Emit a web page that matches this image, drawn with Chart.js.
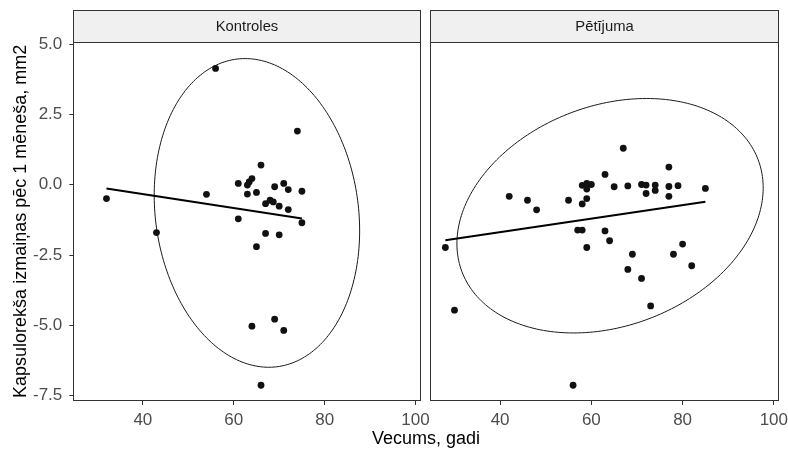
<!DOCTYPE html>
<html>
<head>
<meta charset="utf-8">
<script src="https://cdn.jsdelivr.net/npm/chart.js@4/dist/chart.umd.min.js"></script>
<style>
  html, body { margin: 0; padding: 0; background: #fff; }
  #wrap { position: relative; width: 788px; height: 452px; font-family: "Liberation Sans", Arial, sans-serif; overflow: hidden; }
  #cLeft { position: absolute; left: 0; top: 0; }
  #cRight { position: absolute; left: 425px; top: 0; }
  #xTitle { position: absolute; left: 276px; width: 300px; top: 428px; text-align: center; font-size: 18px; line-height: 21px; color: #000; white-space: nowrap; }
</style>
</head>
<body>
<div id="wrap">
  <canvas id="cLeft" width="445" height="452"></canvas>
  <canvas id="cRight" width="363" height="452"></canvas>
  <div id="xTitle">Vecums, gadi</div>
</div>
<script>
// Panel names
const panelNames = ["Kontroles", "Pētījuma"];

// Control group: age (years) and capsulorhexis change (mm2)
const kontrolesAge = [32, 56, 74, 66, 54, 61, 64, 63.4, 63, 63, 65, 69, 71, 72, 75, 67, 68, 68.7, 70, 72, 61, 75, 43, 67, 70, 65, 64, 69, 71, 66];
const kontrolesChange = [-0.49, 4.14, 1.91, 0.70, -0.34, 0.05, 0.22, 0.10, -0.01, -0.33, -0.27, -0.07, 0.05, -0.17, -0.23, -0.67, -0.55, -0.61, -0.76, -0.88, -1.21, -1.35, -1.70, -1.73, -1.78, -2.20, -5.03, -4.78, -5.18, -7.13];

// Study group
const studyAge = [67, 77, 63, 58, 59, 60, 59, 65, 68, 71, 72, 72, 74, 74, 77, 77, 79, 85, 42, 46, 48, 55, 59, 58, 57, 58, 63, 64, 59, 69, 68, 71, 73, 78, 80, 82, 28, 30, 56];
const studyChange = [1.30, 0.63, 0.37, -0.02, 0.05, 0.01, -0.15, -0.07, -0.04, 0.01, -0.01, -0.31, -0.01, -0.20, -0.06, -0.41, -0.03, -0.13, -0.41, -0.55, -0.89, -0.55, -0.49, -0.68, -1.61, -1.61, -1.64, -1.99, -2.23, -2.47, -3.01, -3.33, -4.31, -2.47, -2.11, -2.88, -2.23, -4.46, -7.13];

// Linear fit end points (age, change)
const kontrolesFitAge = [32, 75];
const kontrolesFitChange = [-0.13, -1.20];
const studyFitAge = [28, 85];
const studyFitChange = [-1.97, -0.60];

// Ellipse: centre, upper conjugate semi-axis, horizontal semi-axis (data units)
const kontrolesEllipse = [65.1, -1.0, -2.6, 5.49, 22.45];
const studyEllipse = [64.1, -1.1, 8.0, 4.17, 32.6];

// Axis ticks and ranges
const xTicks = [40, 60, 80, 100];
const yTicks = [-7.5, -5.0, -2.5, 0.0, 2.5, 5.0];
const xRange = [24.7, 101.2];
const yRange = [-7.69, 5.09];

function toPoints(xs, ys) { return xs.map((x, i) => ({ x: x, y: ys[i] })); }

function ellipsePoints(e) {
  const [cx, cy, ux, uy, h] = e;
  const pts = [];
  for (let i = 0; i <= 120; i++) {
    const t = (i / 120) * Math.PI * 2;
    pts.push({ x: cx + ux * Math.cos(t) + h * Math.sin(t), y: cy + uy * Math.cos(t) });
  }
  return pts;
}

// Frame around the panel plus the facet strip above it
const panelFrame = {
  id: 'panelFrame',
  afterDraw(chart, args, opts) {
    const { ctx, chartArea: a } = chart;
    ctx.save();
    ctx.lineWidth = 1;
    ctx.strokeStyle = '#333333';
    const stripTop = 10;
    const l = Math.round(a.left), r = Math.round(a.right), t = Math.round(a.top), b = Math.round(a.bottom);
    ctx.fillStyle = '#f0f0f0';
    ctx.fillRect(l, stripTop, r - l, t - stripTop);
    ctx.strokeRect(l + 0.5, stripTop + 0.5, r - l - 1, t - stripTop);
    ctx.strokeRect(l + 0.5, t + 0.5, r - l - 1, b - t - 1);
    ctx.fillStyle = '#1a1a1a';
    ctx.font = '14.8px "Liberation Sans", Arial, sans-serif';
    ctx.textAlign = 'center';
    ctx.textBaseline = 'middle';
    ctx.fillText(opts.label, (l + r) / 2, (stripTop + t) / 2 + 1);
    ctx.restore();
  }
};

const tickFont = { family: '"Liberation Sans", Arial, sans-serif', size: 17 };

function makeChart(id, label, ages, changes, fitX, fitY, ell, isLeft) {
  return new Chart(document.getElementById(id), {
    type: 'scatter',
    data: {
      datasets: [
        {
          data: ellipsePoints(ell), showLine: true, pointRadius: 0,
          borderColor: '#1a1a1a', borderWidth: 1, tension: 0.3, order: 3
        },
        {
          data: toPoints(fitX, fitY), showLine: true, pointRadius: 0,
          borderColor: '#000000', borderWidth: 2, order: 2
        },
        {
          data: toPoints(ages, changes), pointRadius: 3.4, pointBackgroundColor: '#111111',
          pointBorderWidth: 0, borderColor: '#111111', order: 1
        }
      ]
    },
    options: {
      responsive: false,
      devicePixelRatio: 1,
      animation: false,
      events: [],
      layout: { padding: { top: 41.7, bottom: 0, left: isLeft ? 0 : 5.3, right: isLeft ? 24 : 8.7 } },
      plugins: { legend: { display: false }, tooltip: { enabled: false }, panelFrame: { label: label } },
      scales: {
        x: {
          type: 'linear', min: xRange[0], max: xRange[1],
          afterBuildTicks: s => { s.ticks = xTicks.map(v => ({ value: v })); },
          afterFit: s => { s.height = 51; s.paddingLeft = 0; s.paddingRight = 0; },
          grid: { drawOnChartArea: false, drawTicks: true, tickLength: 4, color: '#333333' },
          border: { display: false },
          ticks: { color: '#4d4d4d', font: tickFont, padding: 5, maxRotation: 0, callback: v => String(v) }
        },
        y: {
          type: 'linear', min: yRange[0], max: yRange[1], display: isLeft,
          afterBuildTicks: s => { s.ticks = yTicks.map(v => ({ value: v })); },
          afterFit: s => { s.width = isLeft ? 73.3 : 0; s.paddingTop = 0; s.paddingBottom = 0; },
          grid: { drawOnChartArea: false, drawTicks: true, tickLength: 4, color: '#333333' },
          border: { display: false },
          ticks: { color: '#4d4d4d', font: tickFont, padding: 7, callback: v => v.toFixed(1) },
          title: {
            display: isLeft, text: 'Kapsulorekša izmaiņas pēc 1 mēneša, mm2', color: '#000000',
            font: { family: '"Liberation Sans", Arial, sans-serif', size: 18 }, padding: { top: 10, bottom: 0 }
          }
        }
      }
    },
    plugins: [panelFrame]
  });
}

makeChart('cLeft', panelNames[0], kontrolesAge, kontrolesChange, kontrolesFitAge, kontrolesFitChange, kontrolesEllipse, true);
makeChart('cRight', panelNames[1], studyAge, studyChange, studyFitAge, studyFitChange, studyEllipse, false);
</script>
</body>
</html>
